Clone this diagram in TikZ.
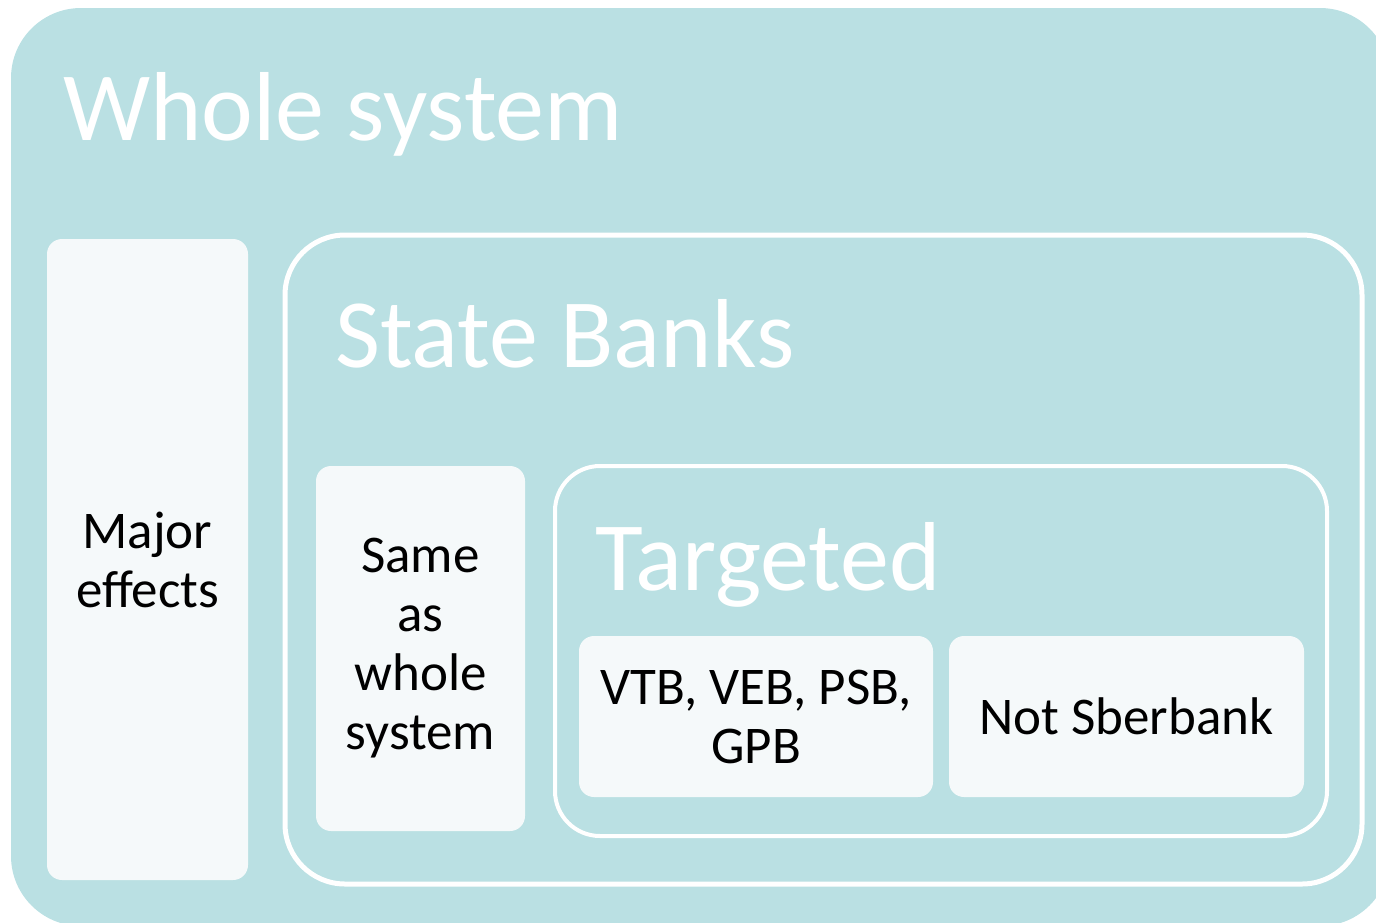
\documentclass[tikz,border=0pt]{standalone}
\usepackage{fontspec}
\setmainfont{Carlito}
\usepackage{tikz}
\usetikzlibrary{positioning}
\definecolor{panelteal}{RGB}{186, 224, 227}
\definecolor{cardwhite}{RGB}{245, 249, 250}
\tikzset{
  panel/.style={fill=panelteal, rounded corners=70pt, inner sep=0pt},
  ring/.style={draw=white, line width=#1, rounded corners=60pt, inner sep=0pt},
  ring/.default=5pt,
  card/.style={fill=cardwhite, rounded corners=15pt, inner sep=0pt, align=center,
    font=\fontsize{53}{59}\selectfont, text=black},
  heading/.style={anchor=base west, inner sep=0pt, text=white,
    font=\fontsize{98}{102}\selectfont}
}

\begin{document}
\begin{tikzpicture}[x=1pt, y=-1pt]
  \useasboundingbox (0,0) rectangle (1376,922);
  \clip (0,0) rectangle (1376,922);
  % --- Whole system ---
  \node[panel, minimum width=1379pt, minimum height=918pt] (whole) at (700.5, 467) {};
  \node[heading] (wholetitle) at (63, 140) {Whole system};
  \node[card, minimum width=201pt, minimum height=641pt] (major) at (147.5, 559.5)
    {Major\\effects};

  % --- State banks ---
  \node[ring=5pt, minimum width=1077pt, minimum height=649pt] (state) at (823.5, 559.5) {};
  \node[heading] (statetitle) at (335, 367) {State Banks};
  \node[card, minimum width=209pt, minimum height=365pt] (same) at (420.5, 648.5)
    {\rule{0pt}{0pt}Same\\as\\whole\\system};

  % --- Targeted ---
  \node[ring=4pt, rounded corners=45pt, minimum width=772pt, minimum height=370pt] (targeted) at (941, 651) {};
  \node[heading] (targetedtitle) at (595, 590) {Targeted};
  \node[card, minimum width=354pt, minimum height=161pt] (vtb) at (756, 716.5)
    {VTB, VEB, PSB,\\GPB};
  \node[card, minimum width=355pt, minimum height=161pt] (notsber) at (1126.5, 716.5)
    {Not Sberbank};
\end{tikzpicture}
\end{document}
